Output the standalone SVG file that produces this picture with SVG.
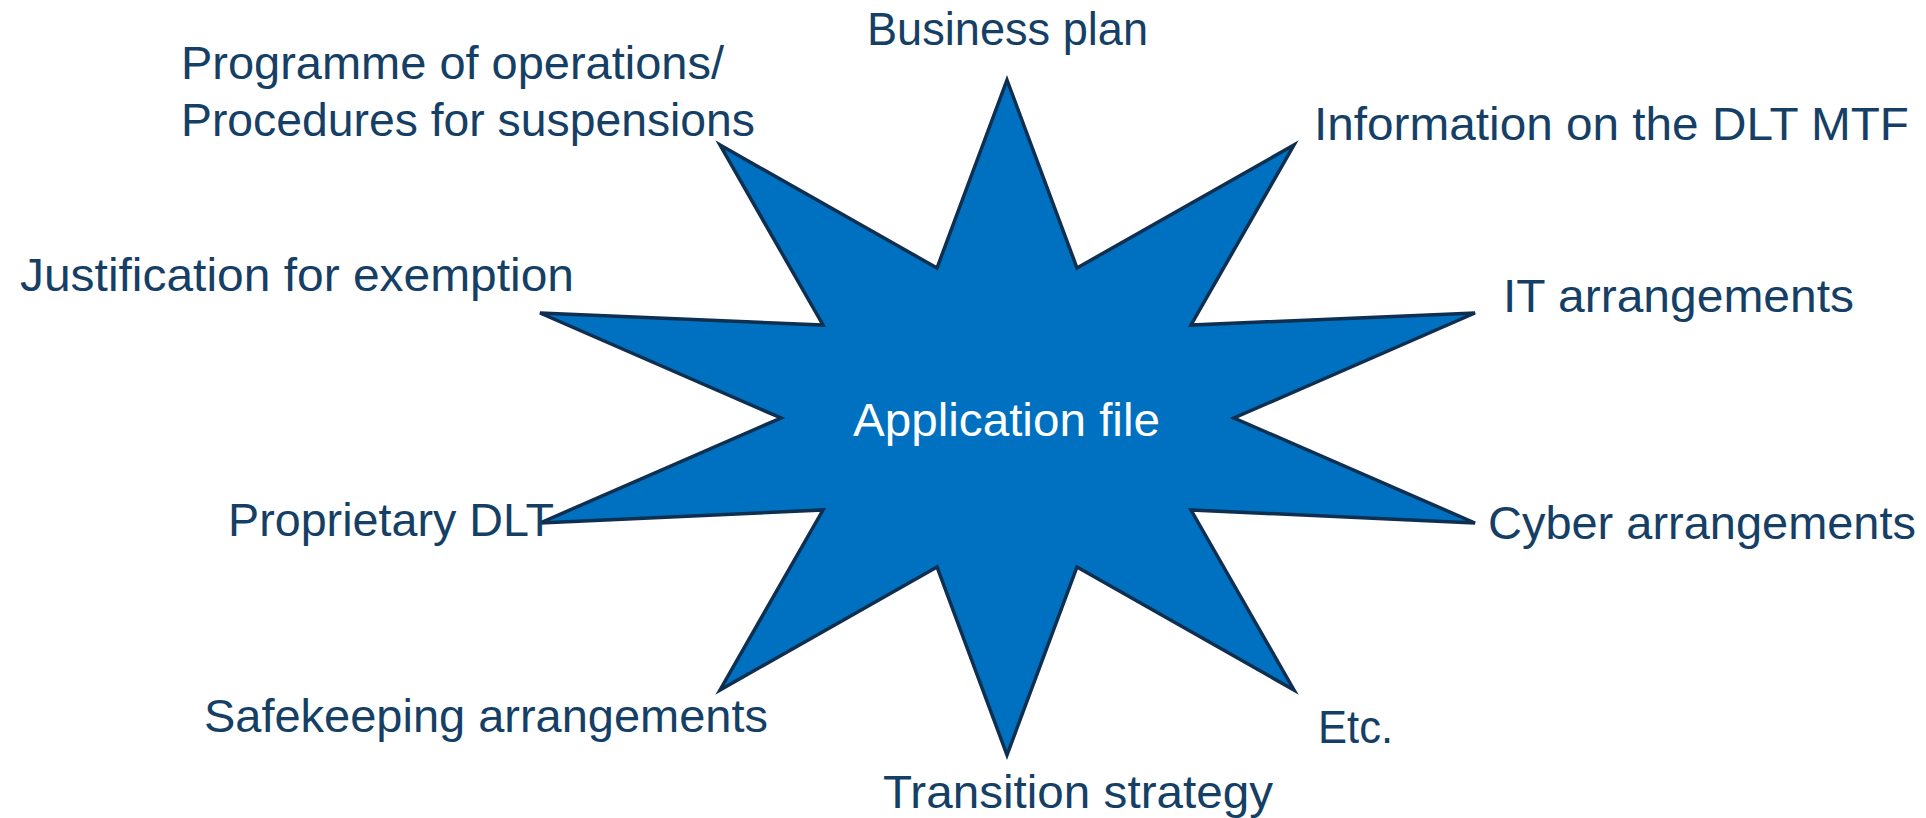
<svg xmlns="http://www.w3.org/2000/svg" width="1926" height="818" viewBox="0 0 1926 818">
  <style>
    .lbl { font-family: "Liberation Sans", Arial, sans-serif; font-size: 46px; fill: #163f66; }
    .core { font-family: "Liberation Sans", Arial, sans-serif; font-size: 46px; fill: #ffffff; }
    .star { fill: #0070c0; stroke: #0e2f50; stroke-width: 3.5; stroke-linejoin: miter; }
  </style>
  <rect width="1926" height="818" fill="#ffffff"/>

  <!-- central ten-point star -->
  <g id="application-file">
    <polygon class="star" points="1007,80 1077,268 1294,145 1191,325 1475,313 1234,418 1475,523 1191,510 1294,690 1077,567 1007,755 937,567 720,690 823,510 540,523 781,418 540,313 823,325 720,145 937,268"/>
    <text class="core" x="853" y="436" textLength="307" lengthAdjust="spacingAndGlyphs">Application file</text>
  </g>

  <!-- surrounding items -->
  <g id="business-plan">
    <text class="lbl" x="867" y="45" textLength="281" lengthAdjust="spacingAndGlyphs">Business plan</text>
  </g>
  <g id="information-dlt-mtf">
    <text class="lbl" x="1314" y="140" textLength="595" lengthAdjust="spacingAndGlyphs">Information on the DLT MTF</text>
  </g>
  <g id="it-arrangements">
    <text class="lbl" x="1503" y="312" textLength="351" lengthAdjust="spacingAndGlyphs">IT arrangements</text>
  </g>
  <g id="cyber-arrangements">
    <text class="lbl" x="1488" y="539" textLength="428" lengthAdjust="spacingAndGlyphs">Cyber arrangements</text>
  </g>
  <g id="etc">
    <text class="lbl" x="1318" y="743" textLength="75" lengthAdjust="spacingAndGlyphs">Etc.</text>
  </g>
  <g id="transition-strategy">
    <text class="lbl" x="883" y="808" textLength="390" lengthAdjust="spacingAndGlyphs">Transition strategy</text>
  </g>
  <g id="safekeeping-arrangements">
    <text class="lbl" x="204" y="732" textLength="564" lengthAdjust="spacingAndGlyphs">Safekeeping arrangements</text>
  </g>
  <g id="proprietary-dlt">
    <text class="lbl" x="228" y="536" textLength="326" lengthAdjust="spacingAndGlyphs">Proprietary DLT</text>
  </g>
  <g id="justification-exemption">
    <text class="lbl" x="20" y="291" textLength="554" lengthAdjust="spacingAndGlyphs">Justification for exemption</text>
  </g>
  <g id="programme-operations">
    <text class="lbl" x="181" y="79" textLength="543" lengthAdjust="spacingAndGlyphs">Programme of operations/</text>
    <text class="lbl" x="181" y="136" textLength="574" lengthAdjust="spacingAndGlyphs">Procedures for suspensions</text>
  </g>
</svg>
